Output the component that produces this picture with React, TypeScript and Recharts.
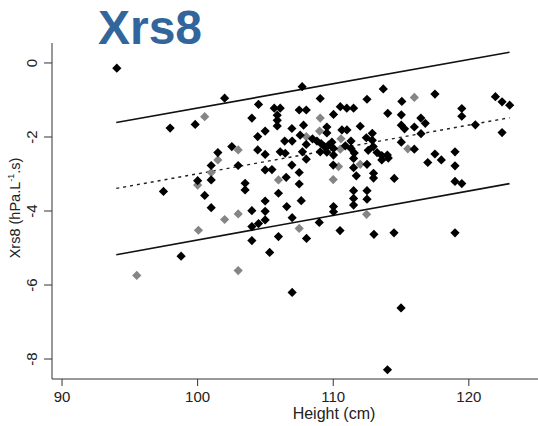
import { ScatterChart, Scatter, XAxis, YAxis, Label } from "recharts";

// children measured with the reference group (black) and the other group (grey)
const blackHeight = [
  94.04, 97.48, 97.97, 98.78, 99.82, 100.0, 100.52, 101.0, 101.0, 101.0,
  101.49, 101.99, 102.52, 102.99, 103.5, 103.5, 104.0, 104.0, 104.0, 104.0,
  104.43, 104.43, 104.49, 104.49, 104.98, 104.98, 104.98, 104.98, 104.98, 104.98,
  105.31, 105.48, 105.65, 106.09, 105.87, 105.87, 105.87, 105.96, 105.96, 106.09,
  106.46, 106.42, 106.53, 106.57, 106.95, 106.97, 106.95, 106.97, 106.97, 107.49,
  107.49, 107.49, 107.56, 107.64, 107.71, 107.73, 107.81, 108.01, 108.01, 108.01,
  108.03, 108.47, 108.8, 109.11, 109.36, 109.65, 109.04, 109.53, 109.04, 108.97,
  109.53, 109.53, 110.02, 110.02, 110.02, 110.0, 110.02, 110.02, 109.9, 110.52,
  110.64, 110.5, 110.89, 111.0, 111.01, 111.31, 111.31, 111.5, 111.55, 111.5,
  111.5, 111.7, 111.5, 111.5, 111.5, 111.99, 112.44, 112.49, 112.49, 112.49,
  112.49, 112.58, 112.88, 112.88, 112.95, 112.97, 112.97, 113.0, 113.23, 113.58,
  113.58, 113.69, 113.99, 114.06, 114.02, 114.5, 114.48, 114.0, 115.0, 115.06,
  115.02, 115.02, 115.26, 115.02, 115.98, 115.98, 116.46, 116.79, 116.47, 116.97,
  117.5, 117.5, 117.97, 118.98, 118.98, 118.98, 119.48, 118.98, 119.48, 119.48,
  120.48, 121.96, 122.45, 123.01, 122.45,
];
const blackXrs8 = [
  -0.14, -3.47, -1.76, -5.22, -1.66, -3.18, -3.58, -2.77, -3.16, -3.91,
  -2.42, -0.95, -2.26, -2.77, -3.25, -3.43, -1.49, -3.99, -4.42, -4.8,
  -1.99, -2.35, -1.12, -4.34, -1.84, -2.47, -2.89, -3.73, -4.01, -4.24,
  -5.12, -2.88, -1.22, -1.22, -1.41, -1.55, -1.7, -3.52, -4.69, -2.4,
  -2.44, -2.11, -3.09, -3.88, -1.77, -2.11, -2.76, -4.18, -6.2, -1.27,
  -2.96, -3.27, -1.95, -3.72, -0.64, -2.4, -1.68, -1.27, -2.2, -2.6,
  -4.74, -2.05, -2.11, -2.18, -2.26, -2.22, -2.4, -2.41, -0.96, -4.31,
  -1.73, -1.89, -1.39, -2.31, -2.49, -2.76, -3.88, -4.02, -2.14, -1.18,
  -1.81, -4.53, -2.24, -1.22, -1.81, -2.11, -2.31, -1.22, -2.43, -2.58,
  -2.83, -3.05, -3.45, -3.66, -3.84, -1.71, -2.02, -0.98, -2.74, -3.45,
  -3.68, -2.36, -1.9, -2.09, -2.26, -2.98, -3.11, -4.63, -2.42, -2.5,
  -2.62, -0.7, -2.49, -2.57, -1.36, -3.12, -4.59, -8.29, -6.62, -1.04,
  -1.4, -1.68, -1.78, -2.14, -1.73, -2.33, -1.49, -1.63, -1.91, -2.69,
  -0.84, -2.46, -2.62, -2.4, -2.78, -3.2, -3.26, -4.59, -1.23, -1.44,
  -1.67, -0.91, -1.05, -1.14, -1.88,
];

const greyHeight = [
  95.51, 100.0, 100.06, 100.52, 101.0, 101.49, 101.99, 102.99, 102.99, 102.99,
  105.96, 107.49, 108.01, 109.04, 108.99, 110.39, 110.0, 110.57, 110.52, 111.99,
  112.46, 115.5, 115.98,
];
const greyXrs8 = [
  -5.74, -3.3, -4.52, -1.45, -2.96, -2.62, -4.23, -2.35, -4.08, -5.61,
  -3.16, -4.47, -1.99, -1.49, -1.84, -2.8, -3.15, -2.05, -2.33, -2.74,
  -4.09, -2.32, -0.93,
];

// regression line and its limits
const fitHeight = [94, 123];
const upperLimit = [-1.61, 0.29];
const meanLine = [-3.39, -1.48];
const lowerLimit = [-5.18, -3.26];

const xTicks = [90, 100, 110, 120];
const yTicks = [-8, -6, -4, -2, 0];

const FONT = "'Liberation Sans', Arial, sans-serif";

const toPoints = (hs: number[], vs: number[]) => hs.map((h, i) => ({ h, v: vs[i] }));

const blackPoints = toPoints(blackHeight, blackXrs8);
const greyPoints = toPoints(greyHeight, greyXrs8);
const upperPoints = toPoints(fitHeight, upperLimit);
const meanPoints = toPoints(fitHeight, meanLine);
const lowerPoints = toPoints(fitHeight, lowerLimit);

const Diamond = (props: any) => {
  const { cx, cy, fill } = props;
  const r = 4.6;
  return (
    <polygon
      points={`${cx},${cy - r} ${cx + r},${cy} ${cx},${cy + r} ${cx - r},${cy}`}
      fill={fill}
    />
  );
};

const NoDot = () => <g />;

const YTick = (props: any) => {
  const { y, payload } = props;
  const x = 37;
  return (
    <text
      x={x}
      y={y}
      transform={`rotate(-90, ${x}, ${y})`}
      textAnchor="middle"
      fontSize={15}
      fontFamily={FONT}
      fill="#222"
    >
      {payload.value}
    </text>
  );
};

const YTitle = () => (
  <text
    x={20}
    y={208}
    transform="rotate(-90, 20, 208)"
    textAnchor="middle"
    fontSize={14.5}
    fontFamily={FONT}
    fill="#222"
  >
    Xrs8 (hPa.L
    <tspan fontSize={9} dy={-6}>-1</tspan>
    <tspan dy={6}>.s)</tspan>
  </text>
);

const XTitle = () => (
  <text x={334} y={419} textAnchor="middle" fontSize={16} fontFamily={FONT} fill="#222">
    Height (cm)
  </text>
);

export default function App() {
  return (
    <div style={{ position: "fixed", left: 0, top: 0, width: 538, height: 426, background: "#fff" }}>
      <div
        style={{
          position: "absolute",
          left: 0,
          top: 4,
          width: 300,
          textAlign: "center",
          fontFamily: FONT,
          fontWeight: "bold",
          fontSize: 48,
          lineHeight: "48px",
          color: "#31659c",
        }}
      >
        Xrs8
      </div>
      <ScatterChart width={538} height={426} margin={{ top: 43, right: 0, bottom: 17, left: 12 }}>
        <XAxis
          type="number"
          dataKey="h"
          domain={[89.26, 125.1]}
          ticks={xTicks}
          allowDataOverflow
          height={30}
          tickSize={7}
          tickMargin={5}
          stroke="#333"
          tick={{ fontSize: 15, fontFamily: FONT, fill: "#222" }}
        >
          <Label content={XTitle} />
        </XAxis>
        <YAxis
          type="number"
          dataKey="v"
          domain={[-8.54, 0.54]}
          ticks={yTicks}
          allowDataOverflow
          width={40}
          tickSize={8}
          stroke="#333"
          tick={YTick}
        >
          <Label content={YTitle} />
        </YAxis>
        <Scatter data={upperPoints} line={{ stroke: "#111", strokeWidth: 1.6 }} shape={NoDot} isAnimationActive={false} />
        <Scatter data={lowerPoints} line={{ stroke: "#111", strokeWidth: 1.6 }} shape={NoDot} isAnimationActive={false} />
        <Scatter
          data={meanPoints}
          line={{ stroke: "#222", strokeWidth: 1.4, strokeDasharray: "3 4" }}
          shape={NoDot}
          isAnimationActive={false}
        />
        <Scatter data={greyPoints} fill="#858585" shape={Diamond} isAnimationActive={false} />
        <Scatter data={blackPoints} fill="#000" shape={Diamond} isAnimationActive={false} />
      </ScatterChart>
    </div>
  );
}
